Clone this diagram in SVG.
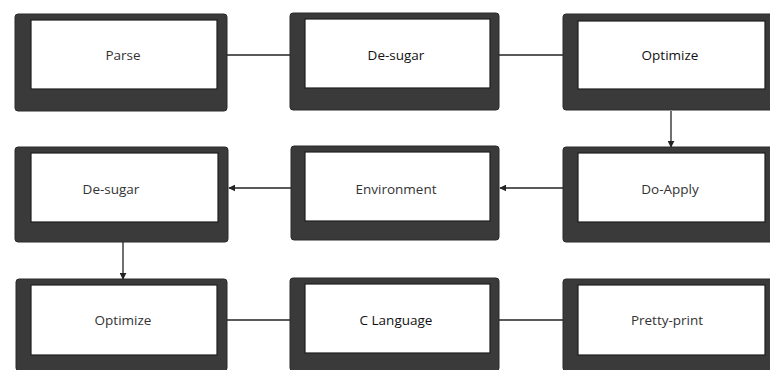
<svg xmlns="http://www.w3.org/2000/svg" width="770" height="370" viewBox="0 0 770 370">
  <style>
    .frame { fill: #3a3a3a; stroke: #2a2a2a; stroke-width: 1; }
    .face { fill: #ffffff; stroke: #1e1e1e; stroke-width: 1.2; }
    .label { font-family: "Open Sans", "Noto Sans", sans-serif; font-size: 13.5px; text-anchor: middle; fill: #333; }
    .dark { fill: #111; }
    .wire { stroke: #222; stroke-width: 1.3; fill: none; }
  </style>
  <defs>
    <marker id="head" viewBox="0 0 10 10" refX="9" refY="5" markerWidth="7" markerHeight="7" markerUnits="userSpaceOnUse" orient="auto">
      <path d="M0,0 L10,5 L0,10 Z" fill="#222"/>
    </marker>
  </defs>
  <rect width="770" height="370" fill="#ffffff"/>

  <!-- connectors -->
  <g id="connectors">
    <line class="wire" x1="227" y1="55" x2="290" y2="55"/>
    <line class="wire" x1="499" y1="55" x2="563" y2="55"/>
    <line class="wire" x1="671" y1="111" x2="671" y2="147" marker-end="url(#head)"/>
    <line class="wire" x1="563" y1="188" x2="500" y2="188" marker-end="url(#head)"/>
    <line class="wire" x1="291" y1="188" x2="229" y2="188" marker-end="url(#head)"/>
    <line class="wire" x1="123" y1="242" x2="123" y2="279" marker-end="url(#head)"/>
    <line class="wire" x1="227" y1="320" x2="291" y2="320"/>
    <line class="wire" x1="499" y1="320" x2="563" y2="320"/>
  </g>

  <!-- row 1 -->
  <g id="parse">
    <rect class="frame" x="15" y="14" width="212" height="97" rx="3"/>
    <rect class="face" x="31" y="20" width="186" height="69"/>
    <text class="label" x="123" y="60">Parse</text>
  </g>
  <g id="desugar1">
    <rect class="frame" x="290" y="13" width="209" height="97" rx="3"/>
    <rect class="face" x="305" y="19" width="185" height="69"/>
    <text class="label dark" x="396" y="60">De-sugar</text>
  </g>
  <g id="optimize1">
    <rect class="frame" x="563" y="14" width="212" height="96" rx="3"/>
    <rect class="face" x="578" y="21" width="187" height="68"/>
    <text class="label dark" x="670" y="60">Optimize</text>
  </g>

  <!-- row 2 -->
  <g id="desugar2">
    <rect class="frame" x="15" y="147" width="213" height="95" rx="3"/>
    <rect class="face" x="31" y="153" width="187" height="69"/>
    <text class="label" x="111" y="194">De-sugar</text>
  </g>
  <g id="environment">
    <rect class="frame" x="291" y="146" width="208" height="94" rx="3"/>
    <rect class="face" x="305" y="152" width="185" height="69"/>
    <text class="label" x="396" y="194">Environment</text>
  </g>
  <g id="doapply">
    <rect class="frame" x="563" y="147" width="212" height="95" rx="3"/>
    <rect class="face" x="578" y="153" width="187" height="69"/>
    <text class="label" x="670" y="194">Do-Apply</text>
  </g>

  <!-- row 3 -->
  <g id="optimize2">
    <rect class="frame" x="16" y="279" width="211" height="92" rx="3"/>
    <rect class="face" x="31" y="285" width="186" height="70"/>
    <text class="label" x="123" y="325">Optimize</text>
  </g>
  <g id="clanguage">
    <rect class="frame" x="290" y="278" width="209" height="93" rx="3"/>
    <rect class="face" x="305" y="284" width="185" height="69"/>
    <text class="label dark" x="396" y="325">C Language</text>
  </g>
  <g id="prettyprint">
    <rect class="frame" x="563" y="279" width="212" height="92" rx="3"/>
    <rect class="face" x="578" y="285" width="187" height="70"/>
    <text class="label" x="667" y="325">Pretty-print</text>
  </g>
</svg>
